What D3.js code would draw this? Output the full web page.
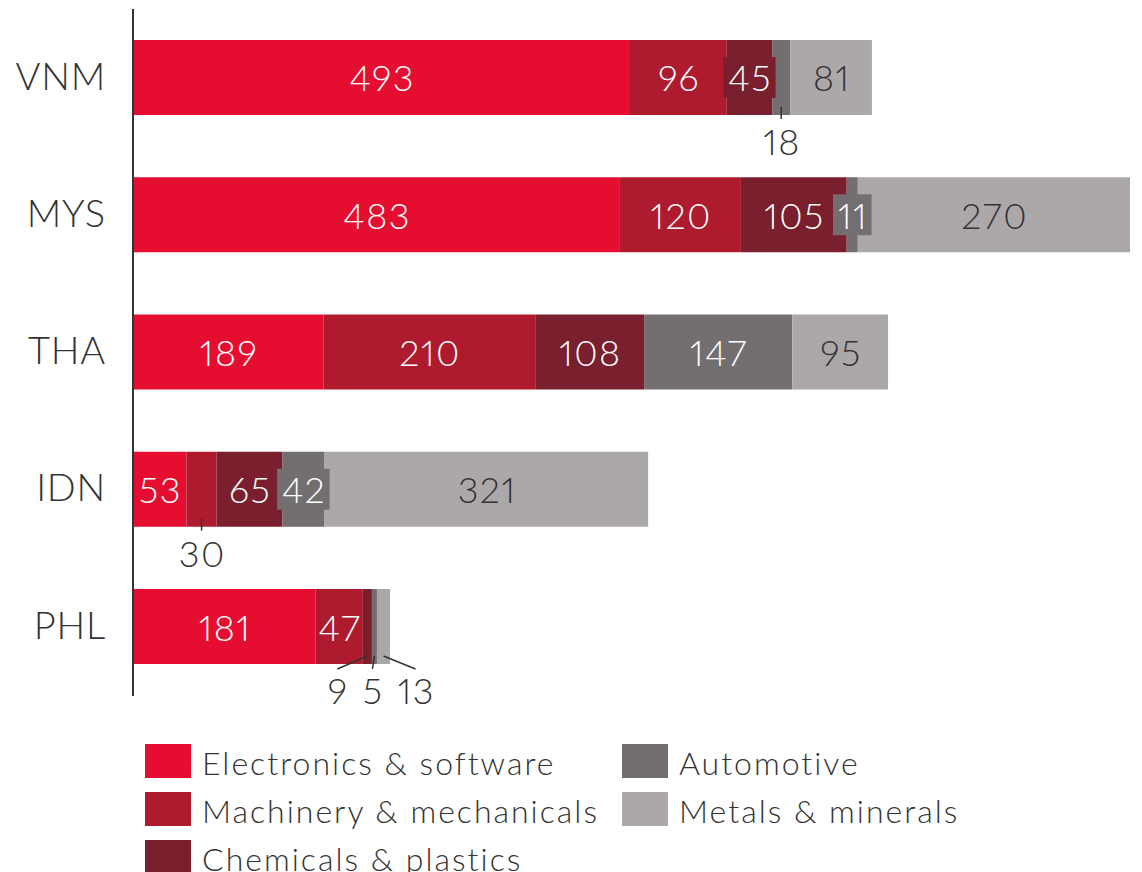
<!DOCTYPE html>
<html>
<head>
<meta charset="utf-8">
<script src="https://cdn.jsdelivr.net/npm/d3@7"></script>
<style>
  html, body { margin: 0; padding: 0; background: #ffffff; }
  svg { display: block; font-family: "Lato", "Open Sans", sans-serif; font-weight: 300; }
  .num { font-variant-numeric: proportional-nums; font-feature-settings: "pnum" 1; }
</style>
</head>
<body>
<svg id="chart" width="1142" height="872"></svg>
<script>
// Countries (bars, top to bottom)
const countries = ["VNM", "MYS", "THA", "IDN", "PHL"];

// Sectors (stack order, left to right)
const sectors = [
  "Electronics & software",
  "Machinery & mechanicals",
  "Chemicals & plastics",
  "Automotive",
  "Metals & minerals"
];

// Values per sector, one entry per country
const electronics = [493, 483, 189, 53, 181];
const machinery   = [96, 120, 210, 30, 47];
const chemicals   = [45, 105, 108, 65, 9];
const automotive  = [18, 11, 147, 42, 5];
const metals      = [81, 270, 95, 321, 13];

const sectorColors = ["#e60e30", "#ae1b2f", "#7a1f2e", "#736e6f", "#aca8a9"];
const labelColors  = ["#ffffff", "#ffffff", "#ffffff", "#ffffff", "#333333"];

// Segments whose value is written below the bar with a leader line
// (dx: horizontal shift of the label from the segment centre)
const callouts = [
  { country: "VNM", sector: 3, dx: 0 },
  { country: "IDN", sector: 1, dx: 0 },
  { country: "PHL", sector: 2, dx: -30 },
  { country: "PHL", sector: 3, dx: -2 },
  { country: "PHL", sector: 4, dx: 32 }
];

const series = [electronics, machinery, chemicals, automotive, metals];
const rows = countries.map((c, i) => {
  const r = { country: c };
  sectors.forEach((s, j) => { r[s] = series[j][i]; });
  return r;
});

const stacked = d3.stack().keys(sectors)(rows);
const maxTotal = d3.max(rows, r => d3.sum(sectors, s => r[s]));

const svg = d3.select("#chart");
const x0 = 133;

const x = d3.scaleLinear().domain([0, maxTotal]).range([x0, 1130]);
const y = d3.scaleBand().domain(countries).range([40, 664]).paddingInner(0.4536).paddingOuter(0);
const color = d3.scaleOrdinal().domain(sectors).range(sectorColors);

const valueFont = 36;
const valueSpacing = 1.5;
const textDark = "#333333";

// Stacked bars
const layers = svg.append("g").selectAll("g")
  .data(stacked)
  .join("g")
  .attr("fill", d => color(d.key));

layers.selectAll("rect")
  .data(d => d.map(v => ({ key: d.key, v })))
  .join("rect")
  .attr("x", d => x(d.v[0]))
  .attr("y", d => y(d.v.data.country))
  .attr("width", d => x(d.v[1]) - x(d.v[0]))
  .attr("height", y.bandwidth());

// Value labels
const isCallout = (country, si) => callouts.some(c => c.country === country && c.sector === si);

function valueText(sel, cx, cy, fill, val) {
  return sel.append("text")
    .attr("class", "num")
    .attr("x", cx + valueSpacing / 2)
    .attr("y", cy)
    .attr("text-anchor", "middle")
    .attr("dominant-baseline", "central")
    .attr("font-size", valueFont)
    .attr("letter-spacing", valueSpacing)
    .attr("fill", fill)
    .text(val);
}

const labelG = svg.append("g");
stacked.forEach((layer, si) => {
  layer.forEach(v => {
    const country = v.data.country;
    if (isCallout(country, si)) return;
    const val = v[1] - v[0];
    const cx = (x(v[0]) + x(v[1])) / 2;
    const cy = y(country) + y.bandwidth() / 2;
    const g = labelG.append("g");
    const t = valueText(g, cx, cy, labelColors[si], val);
    // When the number is wider than its segment, give it a backing box
    const w = t.node().getBBox().width - valueSpacing;
    const segW = x(v[1]) - x(v[0]);
    if (w + 4 > segW) {
      g.insert("rect", "text")
        .attr("x", cx - w / 2 - 5)
        .attr("y", cy - 20.5)
        .attr("width", w + 10)
        .attr("height", 41)
        .attr("fill", sectorColors[si]);
    }
  });
});

// Callout labels below bars
callouts.forEach(c => {
  const ci = countries.indexOf(c.country);
  const v = stacked[c.sector][ci];
  const cx = (x(v[0]) + x(v[1])) / 2;
  const bottom = y(c.country) + y.bandwidth();
  const lx = cx + c.dx;
  svg.append("line")
    .attr("x1", cx).attr("y1", bottom - 8)
    .attr("x2", lx).attr("y2", bottom + 4 + (c.dx === 0 ? 0 : 1))
    .attr("stroke", textDark)
    .attr("stroke-width", 1.5);
  valueText(svg, lx, bottom + 26, textDark, v[1] - v[0]);
});

// Category axis
const axis = svg.append("g")
  .attr("transform", `translate(${x0},0)`)
  .call(d3.axisLeft(y).tickSize(0).tickPadding(27));
axis.select(".domain").remove();
axis.selectAll("text")
  .attr("font-size", 38)
  .attr("font-family", "Lato, 'Open Sans', sans-serif")
  .attr("letter-spacing", 0.8)
  .attr("fill", textDark);

svg.append("line")
  .attr("x1", x0).attr("x2", x0)
  .attr("y1", 9).attr("y2", 696)
  .attr("stroke", textDark)
  .attr("stroke-width", 2);

// Legend
const legendPos = [[145, 744], [145, 792], [145, 840], [622, 744], [622, 792]];
const legend = svg.append("g");
sectors.forEach((s, i) => {
  const [lx, ly] = legendPos[i];
  legend.append("rect")
    .attr("x", lx).attr("y", ly)
    .attr("width", 46).attr("height", 34)
    .attr("fill", color(s));
  legend.append("text")
    .attr("x", lx + 57)
    .attr("y", ly + 18)
    .attr("dominant-baseline", "central")
    .attr("font-size", 32)
    .attr("letter-spacing", 2.0)
    .attr("fill", textDark)
    .text(s);
});
</script>
</body>
</html>
